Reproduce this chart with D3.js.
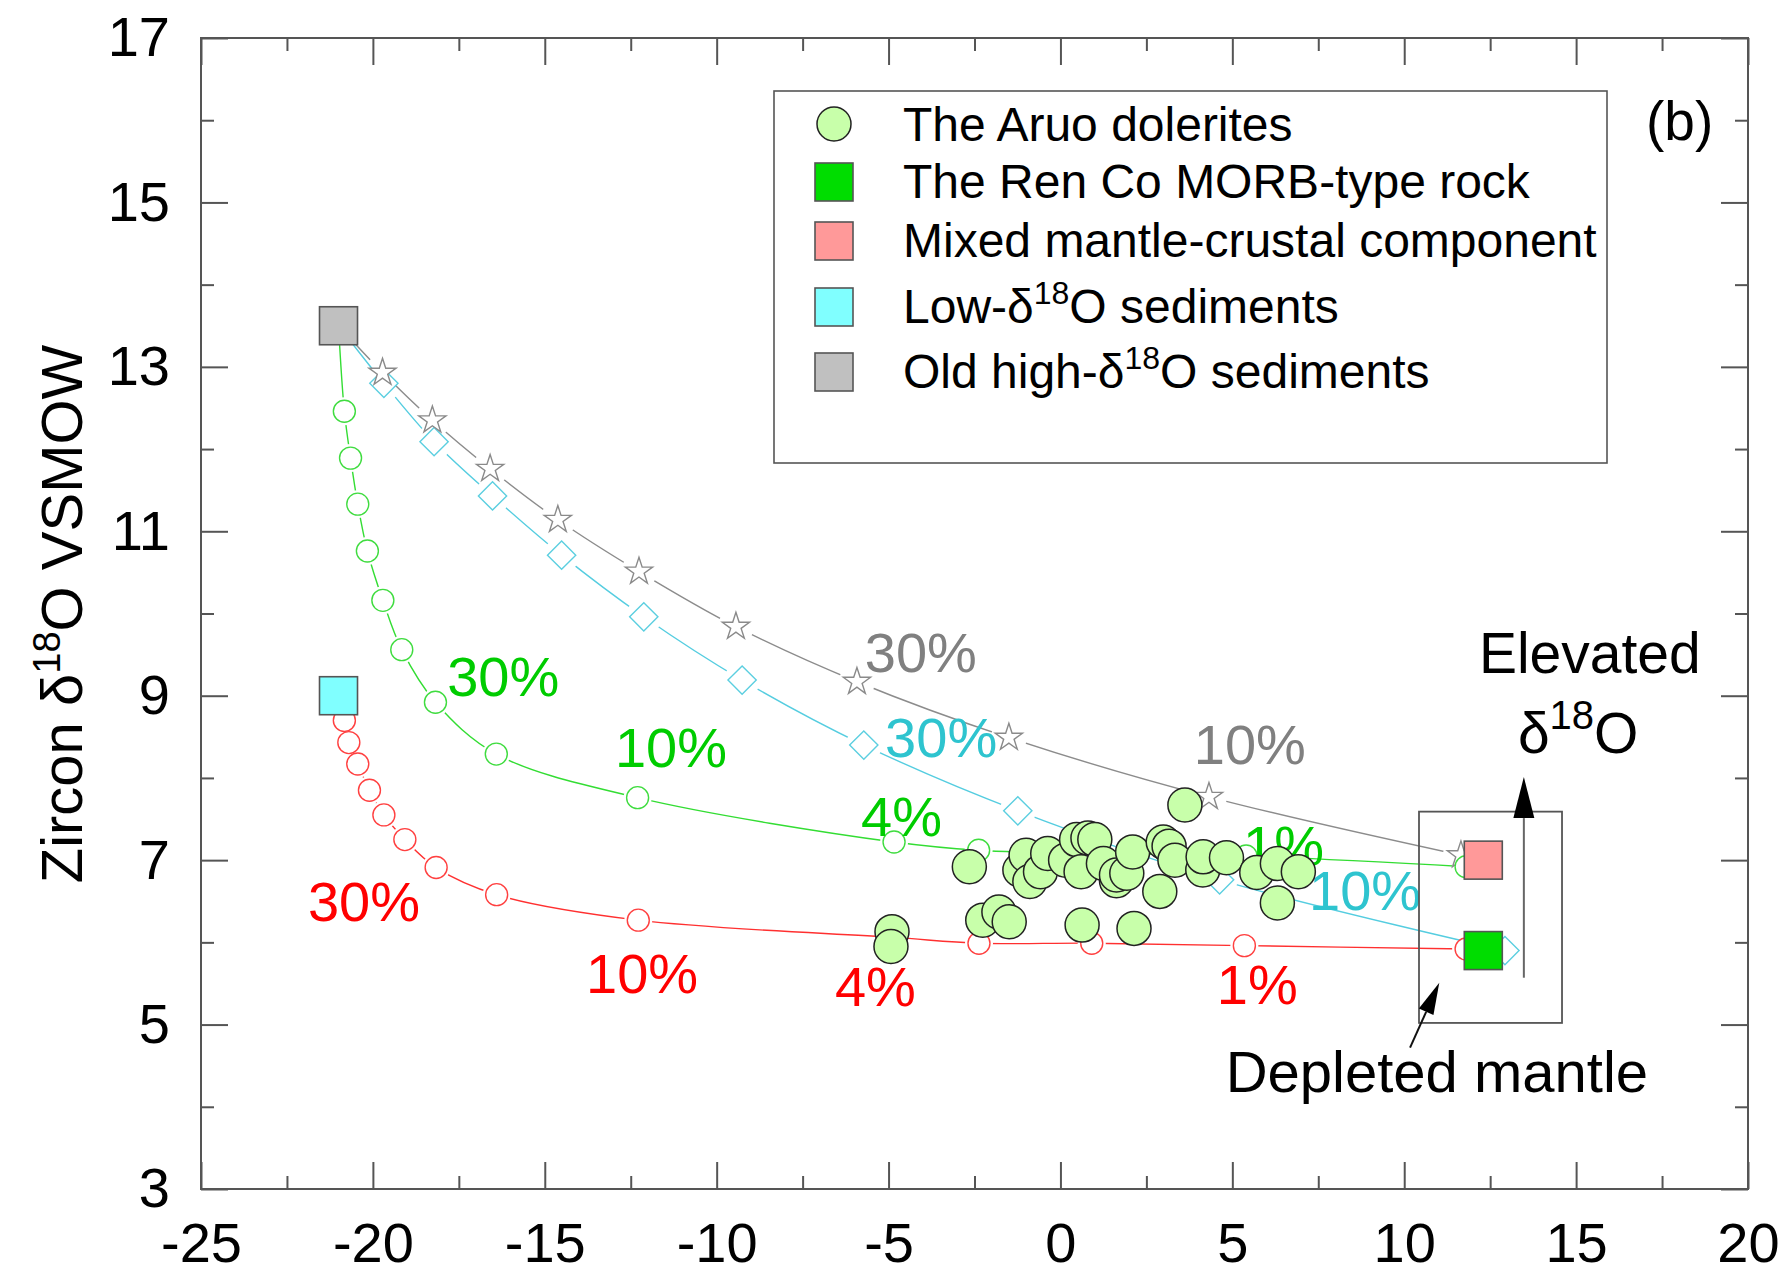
<!DOCTYPE html>
<html>
<head>
<meta charset="utf-8">
<script src="https://cdn.jsdelivr.net/npm/d3@7/dist/d3.min.js"></script>
<style>
  html, body { margin: 0; padding: 0; background: #fff; }
  svg { display: block; font-family: "Liberation Sans", Arial, Helvetica, sans-serif; }
</style>
</head>
<body>
<svg id="chart" width="1791" height="1274"></svg>
<script>
// ---- Axis ticks ----
const xMajorTicks = [-25, -20, -15, -10, -5, 0, 5, 10, 15, 20];
const yMajorTicks = [3, 5, 7, 9, 11, 13, 15, 17];
const xMinorTicks = [-22.5, -17.5, -12.5, -7.5, -2.5, 2.5, 7.5, 12.5, 17.5];
const yMinorTicks = [4, 6, 8, 10, 12, 14, 16];

// ---- End members (squares) ----
const endNames = ["Old high-δ18O sediments", "Low-δ18O sediments", "Mixed mantle-crustal component", "The Ren Co MORB-type rock"];
const endX = [-21.0, -21.0, 12.3, 12.3];
const endY = [13.5, 9.0, 7.0, 5.9];

// ---- Mixing curves (first point is the source end member) ----
const grayX = [-21.0, -19.72, -18.27, -16.59, -14.62, -12.26, -9.44, -5.92, -1.50, 4.32, 11.65];
const grayY = [13.5, 12.93, 12.35, 11.76, 11.14, 10.51, 9.84, 9.17, 8.49, 7.77, 7.06];

const cyanX = [-21.0, -19.68, -18.22, -16.52, -14.51, -12.12, -9.26, -5.72, -1.24, 4.63, 12.93];
const cyanY = [13.5, 12.80, 12.09, 11.43, 10.71, 9.96, 9.19, 8.40, 7.60, 6.76, 5.90];

const greenX = [-21.0, -20.83, -20.65, -20.44, -20.16, -19.71, -19.16, -18.18, -16.41, -12.30, -4.84, -2.38, 0.90, 5.40, 11.80];
const greenY = [13.5, 12.46, 11.89, 11.33, 10.76, 10.16, 9.56, 8.92, 8.29, 7.76, 7.22, 7.12, 7.08, 7.05, 6.92];

const redX = [-21.0, -20.83, -20.70, -20.44, -20.10, -19.68, -19.07, -18.16, -16.40, -12.28, -4.84, -2.37, 0.91, 5.35, 11.80];
const redY = [9.0, 8.70, 8.43, 8.17, 7.85, 7.55, 7.25, 6.91, 6.58, 6.27, 6.06, 5.99, 5.99, 5.96, 5.92];

// ---- Percentage labels along the curves ----
const pctText  = ["30%", "10%", "30%", "10%", "30%", "10%", "4%", "1%", "30%", "10%", "4%", "1%"];
const pctColor = ["gray", "gray", "cyan", "cyan", "green", "green", "green", "green", "red", "red", "red", "red"];
const pctX     = [-5.69, 3.88, -5.10, 7.23, -17.84, -12.96, -5.80, 5.31, -21.89, -13.80, -6.56, 4.55];
const pctY     = [9.29, 8.17, 8.25, 6.39, 9.00, 8.13, 7.29, 6.94, 6.26, 5.38, 5.23, 5.25];

// ---- The Aruo dolerites ----
const doleriteX = [-4.90, -4.93, -2.65, -2.26, -1.79, -1.49, -1.18, -1.00, -0.89, -0.58, -0.37,
                   0.15, 0.47, 0.80, 1.00, 0.60, 0.63, 1.25, 1.63, 1.63, 1.93, 2.10, 2.14,
                   2.99, 3.16, 3.33, 2.89, 3.62, 4.14, 4.15, 4.83, 5.71, 6.31, 6.92, 6.31];
const doleriteY = [6.13, 5.95, 6.92, 6.27, 6.37, 6.25, 6.88, 7.06, 6.74, 6.86, 7.08,
                   7.00, 7.25, 7.27, 7.25, 6.86, 6.21, 6.96, 6.75, 6.82, 6.84, 7.10, 6.17,
                   7.22, 7.17, 7.00, 6.62, 7.67, 6.88, 7.04, 7.03, 6.85, 6.96, 6.86, 6.48];

const colors = {
  red: "#ff0000", redLine: "#ff3030",
  green: "#00cc00", greenLine: "#33dd33",
  cyan: "#2ec4cf", cyanLine: "#55cde0",
  gray: "#808080", grayLine: "#8c8c8c",
  dolerite: "#c8ffaa", frame: "#555555"
};
const endFills = ["#c0c0c0", "#80ffff", "#ff9999", "#00dd00"];

const W = 1791, H = 1274;
const svg = d3.select("#chart");
const defs = svg.append("defs");
const plotLeft = 201, plotRight = 1748, plotTop = 38, plotBottom = 1189;
const x = d3.scaleLinear().domain([-25, 20]).range([plotLeft, plotRight]);
const y = d3.scaleLinear().domain([3, 17]).range([plotBottom, plotTop]);
const plainNumber = d => String(d);   // hyphen-minus, as typeset on the axes

// ---- Frame and inward ticks on all four sides ----
const tickStyle = g => {
  g.select(".domain").remove();
  g.selectAll(".tick line").attr("stroke", colors.frame).attr("stroke-width", 2);
  g.selectAll(".tick text").attr("fill", "#000").attr("font-size", 56)
    .attr("font-family", "'Liberation Sans', Arial, sans-serif");
};
svg.append("g").attr("transform", `translate(0,${plotBottom})`)
  .call(d3.axisBottom(x).tickValues(xMajorTicks).tickSize(-27).tickPadding(33).tickFormat(plainNumber))
  .call(tickStyle);
svg.append("g").attr("transform", `translate(0,${plotBottom})`)
  .call(d3.axisBottom(x).tickValues(xMinorTicks).tickSize(-13).tickFormat(""))
  .call(tickStyle);
svg.append("g").attr("transform", `translate(0,${plotTop})`)
  .call(d3.axisTop(x).tickValues(xMajorTicks).tickSize(-27).tickFormat(""))
  .call(tickStyle);
svg.append("g").attr("transform", `translate(0,${plotTop})`)
  .call(d3.axisTop(x).tickValues(xMinorTicks).tickSize(-13).tickFormat(""))
  .call(tickStyle);
svg.append("g").attr("transform", `translate(${plotLeft},0)`)
  .call(d3.axisLeft(y).tickValues(yMajorTicks).tickSize(-27).tickPadding(31).tickFormat(plainNumber))
  .call(tickStyle);
svg.append("g").attr("transform", `translate(${plotLeft},0)`)
  .call(d3.axisLeft(y).tickValues(yMinorTicks).tickSize(-13).tickFormat(""))
  .call(tickStyle);
svg.append("g").attr("transform", `translate(${plotRight},0)`)
  .call(d3.axisRight(y).tickValues(yMajorTicks).tickSize(-27).tickFormat(""))
  .call(tickStyle);
svg.append("g").attr("transform", `translate(${plotRight},0)`)
  .call(d3.axisRight(y).tickValues(yMinorTicks).tickSize(-13).tickFormat(""))
  .call(tickStyle);

svg.append("rect").attr("x", plotLeft).attr("y", plotTop)
  .attr("width", plotRight - plotLeft).attr("height", plotBottom - plotTop)
  .attr("fill", "none").attr("stroke", colors.frame).attr("stroke-width", 2);

// ---- Y axis title ----
const yTitle = svg.append("text")
  .attr("transform", `translate(82,614) rotate(-90)`)
  .attr("text-anchor", "middle").attr("font-size", 58).attr("fill", "#000");
yTitle.append("tspan").text("Zircon δ");
yTitle.append("tspan").attr("font-size", 38).attr("dy", -22).text("18");
yTitle.append("tspan").attr("dy", 22).text("O VSMOW");

// ---- Mixing curves: each line is broken around its own markers ----
const line = d3.line().x(d => x(d[0])).y(d => y(d[1])).curve(d3.curveCatmullRom.alpha(0.5));
const lineG = svg.append("g");
const markG = svg.append("g");

const series = [
  { id: "cyan",  xs: cyanX,  ys: cyanY,  line: colors.cyanLine,  mark: "#5ccfe0", kind: "diamond", gap: 18 },
  { id: "gray",  xs: grayX,  ys: grayY,  line: colors.grayLine,  mark: "#8a8a8a", kind: "star",    gap: 18 },
  { id: "green", xs: greenX, ys: greenY, line: colors.greenLine, mark: "#3fdc3f", kind: "circle",  gap: 14 },
  { id: "red",   xs: redX,   ys: redY,   line: colors.redLine,   mark: "#ff4040", kind: "circle",  gap: 14 }
];

series.forEach(s => {
  const pts = s.xs.map((v, i) => [v, s.ys[i]]);
  const marks = pts.slice(1);
  const mask = defs.append("mask").attr("id", "gap-" + s.id)
    .attr("maskUnits", "userSpaceOnUse").attr("x", 0).attr("y", 0).attr("width", W).attr("height", H);
  mask.append("rect").attr("width", W).attr("height", H).attr("fill", "#fff");
  mask.selectAll("circle").data(marks).join("circle")
    .attr("cx", d => x(d[0])).attr("cy", d => y(d[1])).attr("r", s.gap).attr("fill", "#000");
  lineG.append("path").attr("d", line(pts)).attr("fill", "none")
    .attr("stroke", s.line).attr("stroke-width", 1.4).attr("mask", `url(#gap-${s.id})`);

  let shape;
  if (s.kind === "star") shape = d3.symbol().type(d3.symbolStar).size(230)();
  else if (s.kind === "diamond") shape = d3.symbol().type(d3.symbolSquare).size(400)();
  else shape = d3.symbol().type(d3.symbolCircle).size(Math.PI * 11 * 11)();
  const rot = s.kind === "diamond" ? " rotate(45)" : "";
  markG.append("g").selectAll("path").data(marks).join("path")
    .attr("d", shape).attr("transform", d => `translate(${x(d[0])},${y(d[1])})${rot}`)
    .attr("fill", "#fff").attr("stroke", s.mark).attr("stroke-width", 1.4);
});

// ---- Percentage labels ----
svg.append("g").selectAll("text").data(pctText).join("text")
  .attr("x", (d, i) => x(pctX[i])).attr("y", (d, i) => y(pctY[i]))
  .attr("font-size", 56).attr("fill", (d, i) => colors[pctColor[i]])
  .text(d => d);

// ---- Dolerite samples ----
svg.append("g").selectAll("circle").data(doleriteX).join("circle")
  .attr("cx", d => x(d)).attr("cy", (d, i) => y(doleriteY[i])).attr("r", 17)
  .attr("fill", colors.dolerite).attr("stroke", "#222").attr("stroke-width", 1.5);

// ---- End-member squares ----
svg.append("g").selectAll("rect").data(endX).join("rect")
  .attr("x", d => x(d) - 19).attr("y", (d, i) => y(endY[i]) - 19)
  .attr("width", 38).attr("height", 38)
  .attr("fill", (d, i) => endFills[i]).attr("stroke", "#555").attr("stroke-width", 1.6);

// ---- Depleted mantle box and arrows ----
svg.append("rect")
  .attr("x", x(10.43)).attr("y", y(7.59))
  .attr("width", x(14.59) - x(10.43)).attr("height", y(5.02) - y(7.59))
  .attr("fill", "none").attr("stroke", "#555").attr("stroke-width", 1.8);

function arrow(x0, y0, x1, y1, headLen, headHalf, stroke) {
  const ax = x(x0), ay = y(y0), bx = x(x1), by = y(y1);
  const dx = bx - ax, dy = by - ay, len = Math.hypot(dx, dy);
  const ux = dx / len, uy = dy / len;
  const baseX = bx - ux * headLen, baseY = by - uy * headLen;
  svg.append("line").attr("x1", ax).attr("y1", ay).attr("x2", baseX).attr("y2", baseY)
    .attr("stroke", stroke).attr("stroke-width", 2);
  svg.append("path")
    .attr("d", `M${bx},${by}L${baseX - uy * headHalf},${baseY + ux * headHalf}L${baseX + uy * headHalf},${baseY - ux * headHalf}Z`)
    .attr("fill", "#000");
}
arrow(13.48, 5.57, 13.48, 8.01, 41, 10.5, "#666");
arrow(10.17, 4.72, 11.02, 5.51, 32, 8, "#111");

svg.append("text").attr("x", x(15.4)).attr("y", y(9.28))
  .attr("text-anchor", "middle").attr("font-size", 57).attr("fill", "#000").text("Elevated");
const dO = svg.append("text").attr("x", x(15.06)).attr("y", y(8.30))
  .attr("text-anchor", "middle").attr("font-size", 57).attr("fill", "#000");
dO.append("tspan").text("δ");
dO.append("tspan").attr("font-size", 40).attr("dy", -24).text("18");
dO.append("tspan").attr("dy", 24).text("O");

svg.append("text").attr("x", x(10.95)).attr("y", y(4.18))
  .attr("text-anchor", "middle").attr("font-size", 58).attr("fill", "#000").text("Depleted mantle");

// ---- Panel tag ----
svg.append("text").attr("x", 1646).attr("y", 140)
  .attr("font-size", 55).attr("fill", "#000").text("(b)");

// ---- Legend ----
const legend = svg.append("g");
legend.append("rect").attr("x", 774).attr("y", 91).attr("width", 833).attr("height", 372)
  .attr("fill", "#fff").attr("stroke", "#555").attr("stroke-width", 1.6);
const legendRows = [124, 182, 241, 307, 372];
const legendBase = [141, 198, 257, 323, 388];
legend.append("circle").attr("cx", 834).attr("cy", legendRows[0]).attr("r", 17)
  .attr("fill", colors.dolerite).attr("stroke", "#222").attr("stroke-width", 1.5);
const legendFills = [endFills[3], endFills[2], endFills[1], endFills[0]];
legendFills.forEach((f, i) => {
  legend.append("rect").attr("x", 815).attr("y", legendRows[i + 1] - 19)
    .attr("width", 38).attr("height", 38)
    .attr("fill", f).attr("stroke", "#555").attr("stroke-width", 1.6);
});
const legendText = [
  ["The Aruo dolerites"],
  ["The Ren Co MORB-type rock"],
  ["Mixed mantle-crustal component"],
  ["Low-δ", "18", "O sediments"],
  ["Old high-δ", "18", "O sediments"]
];
legendText.forEach((parts, i) => {
  const t = legend.append("text").attr("x", 903).attr("y", legendBase[i])
    .attr("font-size", 48).attr("fill", "#000");
  t.append("tspan").text(parts[0]);
  if (parts.length > 1) {
    t.append("tspan").attr("font-size", 32).attr("dy", -19).text(parts[1]);
    t.append("tspan").attr("dy", 19).text(parts[2]);
  }
});
</script>
</body>
</html>
